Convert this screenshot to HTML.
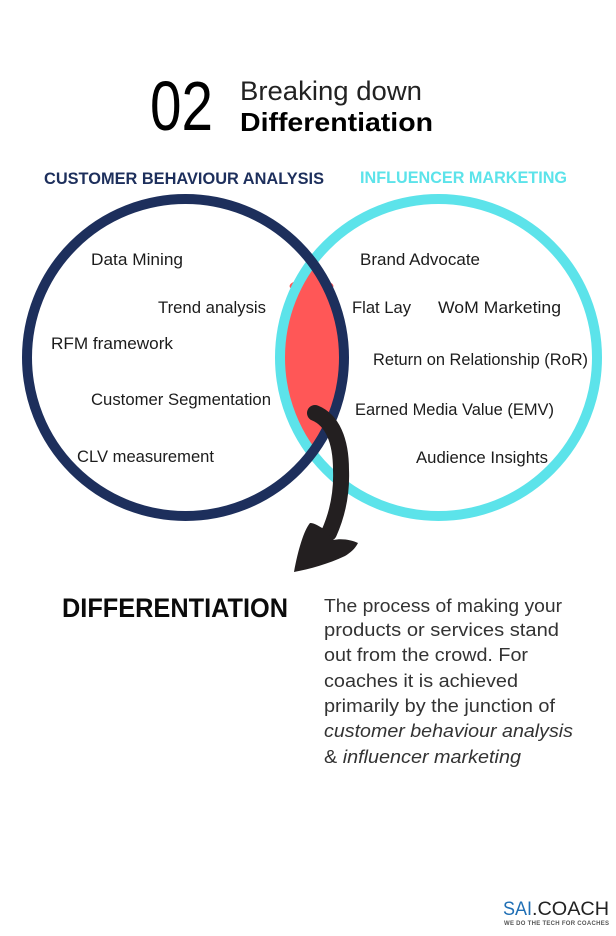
<!DOCTYPE html>
<html><head><meta charset="utf-8"><style>
html,body{margin:0;padding:0;background:#fff}
svg{display:block}
text{font-family:"Liberation Sans",sans-serif}
</style></head><body>
<svg width="616" height="936" viewBox="0 0 616 936" xmlns="http://www.w3.org/2000/svg">
<rect width="616" height="936" fill="#fff"/>
<text x="150" y="130" font-size="70" fill="#000" textLength="63" lengthAdjust="spacingAndGlyphs">02</text>
<text x="240" y="100" font-size="27" fill="#222" textLength="182" lengthAdjust="spacingAndGlyphs">Breaking down</text>
<text x="240" y="131" font-size="26" font-weight="bold" fill="#000" textLength="193" lengthAdjust="spacingAndGlyphs">Differentiation</text>
<text x="44" y="184" font-size="17" font-weight="bold" fill="#1d2f5c" textLength="280" lengthAdjust="spacingAndGlyphs">CUSTOMER BEHAVIOUR ANALYSIS</text>
<text x="360" y="183" font-size="17" font-weight="bold" fill="#5ce3ea" textLength="207" lengthAdjust="spacingAndGlyphs">INFLUENCER MARKETING</text>

<ellipse cx="311.500" cy="286" rx="22" ry="7" fill="#ff5757"/>
<path d="M312 262A158.500 158.500 0 0 1 312 453A158.500 158.500 0 0 1 312 262Z" fill="#ff5757" stroke="#ff5757" stroke-width="4"/>
<circle cx="438.500" cy="357.500" r="158.500" fill="none" stroke="#5ce3ea" stroke-width="10"/>
<circle cx="185.500" cy="357.500" r="158.500" fill="none" stroke="#1d2f5c" stroke-width="10"/>

<path d="M315 413C332 420 341 440 341 470C342 495 337 515 329 533" fill="none" stroke="#231f20" stroke-width="16" stroke-linecap="round"/>
<path d="M294 572C298 550 304 530 310 523C315 523 320 527 324 529L333 540C342 538 352 540 358 543C355 549 350 553 345 556C328 564 310 569 294 572Z" fill="#231f20"/>

<g font-size="17" fill="#1c1c1c">
<text x="91" y="265" textLength="92" lengthAdjust="spacingAndGlyphs">Data Mining</text>
<text x="158" y="313" textLength="108" lengthAdjust="spacingAndGlyphs">Trend analysis</text>
<text x="51" y="349" textLength="122" lengthAdjust="spacingAndGlyphs">RFM framework</text>
<text x="91" y="405" textLength="180" lengthAdjust="spacingAndGlyphs">Customer Segmentation</text>
<text x="77" y="462" textLength="137" lengthAdjust="spacingAndGlyphs">CLV measurement</text>
<text x="360" y="265" textLength="120" lengthAdjust="spacingAndGlyphs">Brand Advocate</text>
<text x="352" y="313" textLength="59" lengthAdjust="spacingAndGlyphs">Flat Lay</text>
<text x="438" y="313" textLength="123" lengthAdjust="spacingAndGlyphs">WoM Marketing</text>
<text x="373" y="365" textLength="215" lengthAdjust="spacingAndGlyphs">Return on Relationship (RoR)</text>
<text x="355" y="415" textLength="199" lengthAdjust="spacingAndGlyphs">Earned Media Value (EMV)</text>
<text x="416" y="463" textLength="132" lengthAdjust="spacingAndGlyphs">Audience Insights</text>
</g>

<text x="62" y="617" font-size="27" font-weight="bold" fill="#0b0b0b" textLength="226" lengthAdjust="spacingAndGlyphs">DIFFERENTIATION</text>
<g font-size="18.500" fill="#333">
<text x="324" y="612" textLength="238" lengthAdjust="spacingAndGlyphs">The process of making your</text>
<text x="324" y="636" textLength="235" lengthAdjust="spacingAndGlyphs">products or services stand</text>
<text x="324" y="661" textLength="204" lengthAdjust="spacingAndGlyphs">out from the crowd. For</text>
<text x="324" y="687" textLength="194" lengthAdjust="spacingAndGlyphs">coaches it is achieved</text>
<text x="324" y="712" textLength="231" lengthAdjust="spacingAndGlyphs">primarily by the junction of</text>
<text x="324" y="737" font-style="italic" textLength="249" lengthAdjust="spacingAndGlyphs">customer behaviour analysis</text>
<text x="324" y="763" textLength="197" lengthAdjust="spacingAndGlyphs">&amp; <tspan font-style="italic">influencer marketing</tspan></text>
</g>

<text x="503" y="915" font-size="19" fill="#1f6fb5" textLength="29" lengthAdjust="spacingAndGlyphs">SAI</text>
<text x="532" y="915" font-size="19" fill="#222" textLength="77" lengthAdjust="spacingAndGlyphs">.COACH</text>
<text x="504" y="925" font-size="6" font-weight="bold" fill="#555" textLength="105" lengthAdjust="spacing">WE DO THE TECH FOR COACHES</text>
</svg>
</body></html>
